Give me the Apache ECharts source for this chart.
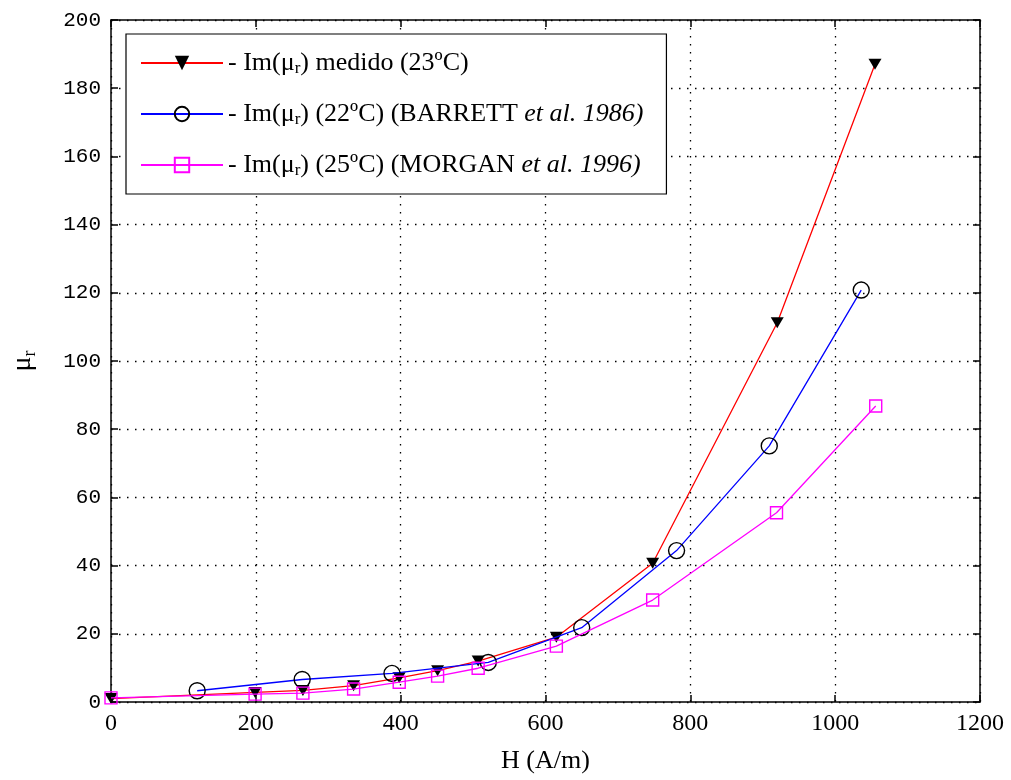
<!DOCTYPE html>
<html>
<head>
<meta charset="utf-8">
<script src="https://cdn.jsdelivr.net/npm/echarts@6/dist/echarts.min.js"></script>
<style>
  html, body { margin: 0; padding: 0; background: #fff; }
  #chart { width: 1011px; height: 780px; }
</style>
</head>
<body>
<div id="chart"></div>
<script>
// Im(mu_r) vs H — measured and literature values
const hMedido = [0, 199, 265, 335, 398, 451, 507, 615, 748, 920, 1055];
const muMedido = [1.0, 2.8, 3.4, 4.8, 7.1, 9.2, 12.0, 19.0, 40.7, 111.2, 187.0];

const hBarrett = [119, 264, 388, 521, 650, 781, 909, 1036];
const muBarrett = [3.3, 6.6, 8.4, 11.6, 21.8, 44.4, 75.1, 120.8];

const hMorgan = [0, 199, 265, 335, 398, 451, 507, 615, 748, 919, 1056];
const muMorgan = [1.2, 2.3, 2.6, 3.8, 5.8, 7.6, 9.9, 16.4, 29.9, 55.5, 86.8];

const xTicks = [0, 200, 400, 600, 800, 1000, 1200];
const yTicks = [0, 20, 40, 60, 80, 100, 120, 140, 160, 180, 200];

const seriesNames = ['medido', 'barrett', 'morgan'];
const legendText = {
  medido: '- Im(μ{s|r}) medido (23ºC)',
  barrett: '- Im(μ{s|r}) (22ºC) (BARRETT {i|et al. 1986)}',
  morgan: '- Im(μ{s|r}) (25ºC) (MORGAN {i|et al. 1996)}'
};

const pairs = (xs, ys) => xs.map((x, i) => [x, ys[i]]);

const serif = 'Liberation Serif';
const mono = 'Liberation Mono';

const chart = echarts.init(document.getElementById('chart'), null, { renderer: 'canvas' });

const dotted = { show: true, lineStyle: { color: '#000', width: 1.3, type: [1.5, 6.5] } };

const option = {
  backgroundColor: '#fff',
  animation: false,
  grid: { left: 111, right: 31, top: 20, bottom: 78 },
  legend: {
    orient: 'vertical',
    left: 126,
    top: 34,
    padding: [14, 23, 14, 14],
    itemWidth: 82,
    itemHeight: 18,
    itemGap: 21,
    backgroundColor: '#fff',
    borderColor: '#000',
    borderWidth: 1.2,
    borderRadius: 0,
    data: seriesNames,
    formatter: name => legendText[name],
    textStyle: {
      fontFamily: serif,
      fontSize: 26,
      lineHeight: 30,
      color: '#000',
      rich: {
        s: { fontFamily: serif, fontSize: 17, lineHeight: 18, padding: [12, 0, 0, 0], color: '#000' },
        i: { fontFamily: serif, fontSize: 26, lineHeight: 30, fontStyle: 'italic', color: '#000' }
      }
    }
  },
  xAxis: [
    {
      type: 'value',
      min: 0, max: 1200, interval: 200,
      name: 'H (A/m)',
      nameLocation: 'middle',
      nameGap: 46,
      nameTextStyle: { fontFamily: serif, fontSize: 26, color: '#000' },
      axisLine: { show: true, onZero: false, lineStyle: { color: '#000', width: 1.5 } },
      axisTick: { show: true, inside: true, length: 7, lineStyle: { color: '#000', width: 1.5 } },
      axisLabel: {
        fontFamily: serif, fontSize: 24, color: '#000', margin: 10,
        formatter: v => (xTicks.indexOf(v) >= 0 ? String(v) : '')
      },
      splitLine: dotted
    },
    {
      type: 'value',
      position: 'top',
      min: 0, max: 1200, interval: 200,
      axisLine: { show: true, onZero: false, lineStyle: { color: '#000', width: 1.5 } },
      axisTick: { show: true, inside: true, length: 7, lineStyle: { color: '#000', width: 1.5 } },
      axisLabel: { show: false },
      splitLine: { show: false }
    }
  ],
  yAxis: [
    {
      type: 'value',
      min: 0, max: 200, interval: 20,
      name: '{m|μ}{s|r}',
      nameLocation: 'middle',
      nameGap: 72,
      nameRotate: 90,
      nameTextStyle: {
        color: '#000',
        rich: {
          m: { fontFamily: serif, fontSize: 28, color: '#000' },
          s: { fontFamily: serif, fontSize: 18, color: '#000', padding: [14, 0, 0, 0] }
        }
      },
      axisLine: { show: true, onZero: false, lineStyle: { color: '#000', width: 1.5 } },
      axisTick: { show: true, inside: true, length: 7, lineStyle: { color: '#000', width: 1.5 } },
      axisLabel: {
        fontFamily: mono, fontSize: 21, color: '#000', margin: 10,
        formatter: v => (yTicks.indexOf(v) >= 0 ? String(v) : '')
      },
      splitLine: dotted
    },
    {
      type: 'value',
      position: 'right',
      min: 0, max: 200, interval: 20,
      axisLine: { show: true, onZero: false, lineStyle: { color: '#000', width: 1.5 } },
      axisTick: { show: true, inside: true, length: 7, lineStyle: { color: '#000', width: 1.5 } },
      axisLabel: { show: false },
      splitLine: { show: false }
    }
  ],
  series: [
    {
      name: 'medido',
      type: 'line',
      data: pairs(hMedido, muMedido),
      symbol: 'triangle',
      symbolRotate: 180,
      symbolSize: [13, 11],
      showAllSymbol: true,
      lineStyle: { color: '#ff0000', width: 1.3 },
      itemStyle: { color: '#000', borderColor: '#000', borderWidth: 0 },
      z: 3
    },
    {
      name: 'barrett',
      type: 'line',
      data: pairs(hBarrett, muBarrett),
      symbol: 'circle',
      symbolSize: 16,
      showAllSymbol: true,
      lineStyle: { color: '#0000ff', width: 1.3 },
      itemStyle: { color: 'rgba(0,0,0,0)', borderColor: '#000', borderWidth: 1.4 },
      z: 4
    },
    {
      name: 'morgan',
      type: 'line',
      data: pairs(hMorgan, muMorgan),
      symbol: 'rect',
      symbolSize: 12,
      showAllSymbol: true,
      lineStyle: { color: '#ff00ff', width: 1.3 },
      itemStyle: { color: 'rgba(0,0,0,0)', borderColor: '#ff00ff', borderWidth: 1.4 },
      z: 5
    }
  ]
};

chart.setOption(option);
</script>
</body>
</html>
